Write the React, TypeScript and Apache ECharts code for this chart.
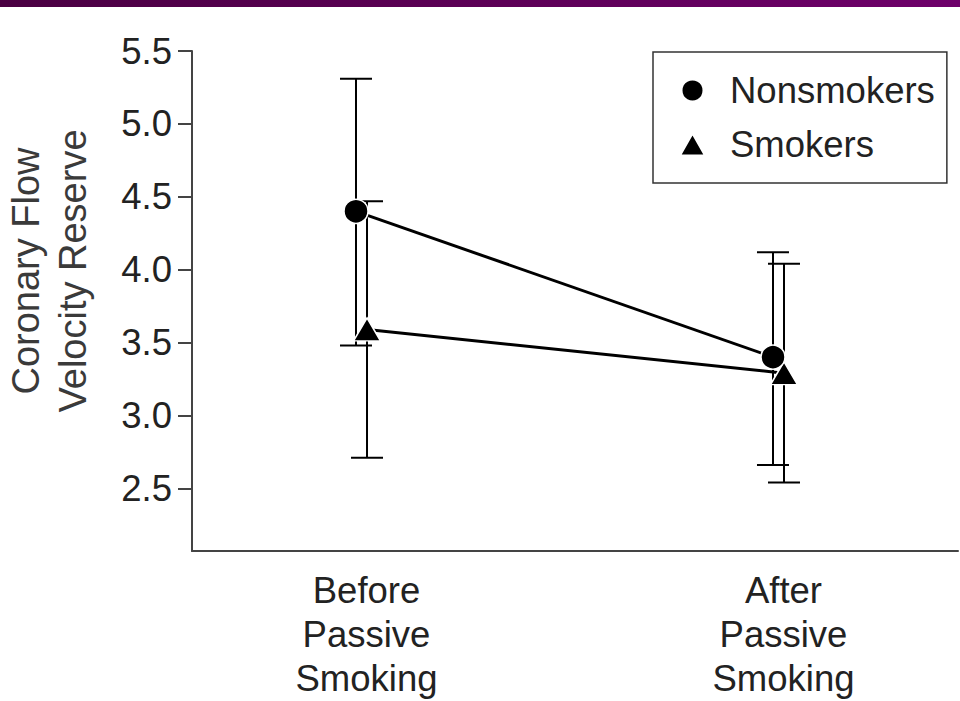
import React, { useEffect, useRef } from "react";
import * as echarts from "echarts";

const categories = ["Before\nPassive\nSmoking", "After\nPassive\nSmoking"];
const seriesNames = ["Nonsmokers", "Smokers"];
const nonsmokersMean = [4.4, 3.4];
const nonsmokersHigh = [5.31, 4.12];
const nonsmokersLow = [3.48, 2.66];
const smokersMean = [3.59, 3.29];
const smokersHigh = [4.47, 4.04];
const smokersLow = [2.71, 2.54];
const yTicks = [2.5, 3.0, 3.5, 4.0, 4.5, 5.0, 5.5];
const yTitle = "Coronary Flow\nVelocity Reserve";

const FONT = "'Liberation Sans', Arial, Helvetica, sans-serif";
const FS = 36.5;
const GROUP_OFFSET = 0.0132;
const TEXT_COLOR = "#222";
const AXIS_COLOR = "#444";

export default function App() {
  const ref = useRef<HTMLDivElement>(null);
  useEffect(() => {
    if (!ref.current) return;
    const chart = echarts.init(ref.current, undefined, { renderer: "svg" });

    const errData = (means: number[], lows: number[], highs: number[], off: number) =>
      means.map((_, i) => [i + off, lows[i], highs[i]]);

    const renderErr = (params: any, api: any) => {
      const x = api.value(0);
      const lo = api.coord([x, api.value(1)]);
      const hi = api.coord([x, api.value(2)]);
      const hw = 16;
      const style = { stroke: "#000", lineWidth: 2 };
      return {
        type: "group",
        children: [
          { type: "line", shape: { x1: hi[0], y1: hi[1], x2: lo[0], y2: lo[1] }, style },
          { type: "line", shape: { x1: hi[0] - hw, y1: hi[1], x2: hi[0] + hw, y2: hi[1] }, style },
          { type: "line", shape: { x1: lo[0] - hw, y1: lo[1], x2: lo[0] + hw, y2: lo[1] }, style },
        ],
      };
    };

    chart.setOption({
      animation: false,
      backgroundColor: "#fff",
      graphic: [
        {
          type: "rect",
          shape: { x: 0, y: 0, width: 960, height: 7 },
          style: {
            fill: {
              type: "linear",
              x: 0, y: 0, x2: 1, y2: 0,
              colorStops: [
                { offset: 0, color: "#4a0042" },
                { offset: 1, color: "#6e006a" },
              ],
            },
          },
        },
        {
          type: "text",
          x: 49,
          y: 271,
          rotation: Math.PI / 2,
          style: {
            text: yTitle,
            align: "center",
            verticalAlign: "middle",
            fontSize: 38,
            lineHeight: 47,
            fill: "#3a3a3a",
            fontFamily: FONT,
          },
        },
      ],
      grid: { left: 192, right: 2, top: 51, bottom: 150, containLabel: false },
      legend: {
        orient: "vertical",
        left: 653,
        top: 52,
        padding: [20, 12, 20, 26],
        itemGap: 17,
        itemWidth: 25,
        itemHeight: 22,
        borderColor: "#333",
        borderWidth: 1.5,
        data: [
          { name: seriesNames[0], icon: "circle" },
          { name: seriesNames[1], icon: "triangle" },
        ],
        formatter: (name: string) => `{t|${name}}`,
        textStyle: {
          rich: {
            t: { fontSize: FS, color: TEXT_COLOR, fontFamily: FONT, padding: [0, 0, 0, 20], lineHeight: 44 },
          },
        },
      },
      xAxis: {
        type: "value",
        min: -0.4065,
        max: 1.4305,
        axisLine: { show: true, onZero: false, lineStyle: { color: AXIS_COLOR, width: 2 } },
        axisTick: { show: false },
        splitLine: { show: false },
        axisLabel: {
          customValues: [0, 1],
          formatter: (v: number) => categories[Math.round(v)],
          fontSize: FS,
          lineHeight: 44,
          margin: 17,
          color: TEXT_COLOR,
          fontFamily: FONT,
          padding: [0, 0, 0, 10],
        },
      },
      yAxis: {
        type: "value",
        min: 2.07,
        max: 5.5,
        axisLine: { show: true, onZero: false, lineStyle: { color: AXIS_COLOR, width: 2 } },
        axisTick: { show: true, inside: false, length: 14, customValues: yTicks, lineStyle: { color: AXIS_COLOR, width: 2 } },
        splitLine: { show: false },
        axisLabel: {
          customValues: yTicks,
          formatter: (v: number) => v.toFixed(1),
          fontSize: FS,
          margin: 20,
          color: TEXT_COLOR,
          fontFamily: FONT,
        },
      },
      series: [
        {
          type: "custom",
          name: "nonsmokers-err",
          renderItem: renderErr,
          data: errData(nonsmokersMean, nonsmokersLow, nonsmokersHigh, -GROUP_OFFSET),
          z: 1,
          silent: true,
        },
        {
          type: "custom",
          name: "smokers-err",
          renderItem: renderErr,
          data: errData(smokersMean, smokersLow, smokersHigh, GROUP_OFFSET),
          z: 1,
          silent: true,
        },
        {
          type: "line",
          name: seriesNames[0],
          data: nonsmokersMean.map((v, i) => [i - GROUP_OFFSET, v]),
          symbol: "circle",
          symbolSize: 24,
          color: "#000",
          itemStyle: { color: "#000", borderColor: "#fff", borderWidth: 1.5 },
          lineStyle: { color: "#000", width: 3 },
          z: 3,
        },
        {
          type: "line",
          name: seriesNames[1],
          data: smokersMean.map((v, i) => [i + GROUP_OFFSET, v]),
          symbol: "triangle",
          symbolSize: [27, 23],
          color: "#000",
          itemStyle: { color: "#000", borderColor: "#fff", borderWidth: 1.5 },
          lineStyle: { color: "#000", width: 3 },
          z: 2,
        },
      ],
    });
    return () => chart.dispose();
  }, []);

  return (
    <div
      ref={ref}
      style={{ position: "fixed", left: 0, top: 0, width: 960, height: 701, background: "#fff" }}
    />
  );
}
